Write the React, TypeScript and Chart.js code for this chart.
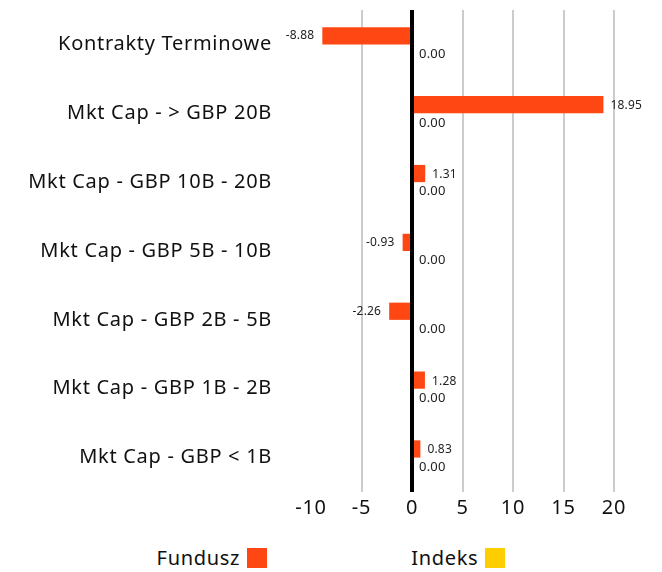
import React, { useEffect, useRef } from "react";
import { Chart, registerables } from "chart.js";

Chart.register(...registerables);

const categories = [
  "Kontrakty Terminowe",
  "Mkt Cap - > GBP 20B",
  "Mkt Cap - GBP 10B - 20B",
  "Mkt Cap - GBP 5B - 10B",
  "Mkt Cap - GBP 2B - 5B",
  "Mkt Cap - GBP 1B - 2B",
  "Mkt Cap - GBP < 1B",
];
const funduszValues = [-8.88, 18.95, 1.31, -0.93, -2.26, 1.28, 0.83];
const indeksValues = [0, 0, 0, 0, 0, 0, 0];
const xTicks = [-10, -5, 0, 5, 10, 15, 20];

const FONT = "'Noto Sans', sans-serif";
const FUNDUSZ_COLOR = "#ff4713";
const INDEKS_COLOR = "#ffce00";

const spacing = {
  id: "spacing",
  beforeDraw(chart: any) {
    chart.ctx.letterSpacing = "0.7px";
  },
};

const valueLabels = {
  id: "valueLabels",
  afterDatasetsDraw(chart: any) {
    const ctx = chart.ctx;
    ctx.save();
    ctx.letterSpacing = "0.2px";
    ctx.fillStyle = "#222";
    ctx.textBaseline = "middle";
    chart.data.datasets.forEach((ds: any, di: number) => {
      const meta = chart.getDatasetMeta(di);
      ctx.font = `${di === 0 ? 12 : 13}px ${FONT}`;
      meta.data.forEach((el: any, i: number) => {
        const v = ds.data[i];
        const txt = v.toFixed(2);
        if (v < 0) {
          ctx.textAlign = "right";
          ctx.fillText(txt, el.x - 8, el.y);
        } else {
          ctx.textAlign = "left";
          ctx.fillText(txt, el.x + 7, el.y + 1);
        }
      });
    });
    ctx.restore();
  },
};

export default function App() {
  const canvasRef = useRef<HTMLCanvasElement>(null);

  useEffect(() => {
    if (!canvasRef.current) return;
    const chart = new Chart(canvasRef.current, {
      type: "bar",
      data: {
        labels: categories,
        datasets: [
          {
            label: "Fundusz",
            data: funduszValues,
            backgroundColor: FUNDUSZ_COLOR,
            barPercentage: 1,
            categoryPercentage: 0.5,
          },
          {
            label: "Indeks",
            data: indeksValues,
            backgroundColor: INDEKS_COLOR,
            barPercentage: 1,
            categoryPercentage: 0.5,
          },
        ],
      },
      options: {
        indexAxis: "y",
        animation: false,
        responsive: true,
        maintainAspectRatio: false,
        layout: { padding: { top: 2, right: 40, left: 0, bottom: 0 } },
        plugins: {
          legend: { display: false },
          tooltip: { enabled: false },
        },
        scales: {
          x: {
            min: -10,
            max: 20,
            afterBuildTicks: (scale: any) => {
              scale.ticks = xTicks.map((v) => ({ value: v }));
            },
            border: { display: false },
            grid: {
              drawTicks: false,
              color: (c: any) =>
                c.tick && c.tick.value === 0
                  ? "#000"
                  : c.tick && c.tick.value === -10
                  ? "rgba(0,0,0,0)"
                  : "#cccccc",
              lineWidth: (c: any) => (c.tick && c.tick.value === 0 ? 4 : 2),
            },
            ticks: {
              color: "#111",
              padding: 4,
              font: { family: FONT, size: 20 },
            },
          },
          y: {
            border: { display: false },
            grid: { display: false, drawTicks: true, tickLength: 39 },
            ticks: {
              color: "#111",
              padding: 0,
              font: { family: FONT, size: 20 },
            },
            afterFit: (scale: any) => {
              scale.width = 303;
              scale.paddingTop = 0;
              scale.paddingBottom = 0;
            },
          },
        },
      },
      plugins: [spacing, valueLabels],
    });
    return () => chart.destroy();
  }, []);

  const legendItem = (label: string, color: string) => (
    <div style={{ display: "flex", alignItems: "center", gap: 7 }}>
      <span style={{ fontFamily: FONT, fontSize: 20, color: "#111", letterSpacing: "0.7px" }}>
        {label}
      </span>
      <span style={{ width: 20, height: 20, background: color, display: "inline-block" }} />
    </div>
  );

  return (
    <div>
      <div style={{ position: "relative", width: 646, height: 516 }}>
        <canvas ref={canvasRef} />
      </div>
      <div
        style={{
          display: "flex",
          justifyContent: "center",
          gap: 144,
          paddingTop: 24,
          width: 646,
          height: 20,
          lineHeight: "20px",
        }}
      >
        {legendItem("Fundusz", FUNDUSZ_COLOR)}
        {legendItem("Indeks", INDEKS_COLOR)}
      </div>
    </div>
  );
}
